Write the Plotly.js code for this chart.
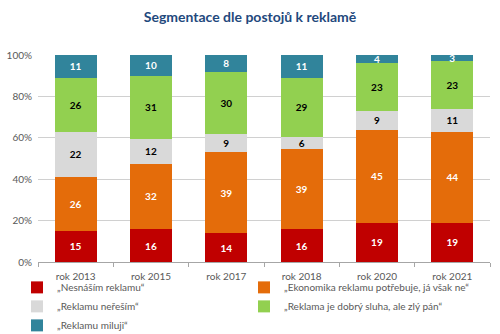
<!DOCTYPE html>
<html>
<head>
<meta charset="utf-8">
<script src="https://cdn.plot.ly/plotly-3.0.1.min.js"></script>
<style>html,body{margin:0;padding:0;background:#fff;}#chart{width:500px;height:334px;}</style>
</head>
<body>
<div id="chart"></div>
<script>
const years = ["rok 2013", "rok 2015", "rok 2017", "rok 2018", "rok 2020", "rok 2021"];
const seriesNames = ["„Nesnáším reklamu“", "„Ekonomika reklamu potřebuje, já však ne“", "„Reklamu neřeším“", "„Reklama je dobrý sluha, ale zlý pán“", "„Reklamu miluji“"];
const nesnasim = [15, 16, 14, 16, 19, 19];
const ekonomika = [26, 32, 39, 39, 45, 44];
const neresim = [22, 12, 9, 6, 9, 11];
const sluha = [26, 31, 30, 29, 23, 23];
const miluji = [11, 10, 8, 11, 4, 3];
const yTickVals = [0, 20, 40, 60, 80, 100];
const yTickText = ["0%", "20%", "40%", "60%", "80%", "100%"];
const colors = ["#C00000", "#E46C0A", "#D9D9D9", "#92D050", "#31849B"];
const textColors = ["#FFFFFF", "#FFFFFF", "#000000", "#000000", "#FFFFFF"];
const values = [nesnasim, ekonomika, neresim, sluha, miluji];

const FONT = "Lato, 'Open Sans', sans-serif";
const traces = values.map((v, i) => ({
  type: "bar",
  name: seriesNames[i],
  x: years,
  y: v,
  text: v.map(String),
  textposition: "inside",
  insidetextanchor: "middle",
  textangle: 0,
  constraintext: "none",
  textfont: {family: FONT, size: 10, color: textColors[i], weight: "bold"},
  marker: {color: colors[i], line: {width: 0}},
  hoverinfo: "none"
}));

const layout = {
  width: 500, height: 334,
  margin: {l: 38, r: 10, t: 55, b: 72},
  barmode: "stack",
  barnorm: "percent",
  bargap: 0.44,
  paper_bgcolor: "#fff",
  plot_bgcolor: "#fff",
  font: {family: FONT, size: 10, color: "#595959"},
  title: {text: "Segmentace dle postojů k reklamě", x: 0.5, xref: "container", xanchor: "center",
          y: 0.95, yref: "container", yanchor: "middle",
          font: {family: FONT, size: 14, color: "#1F497D", weight: "bold"}},
  xaxis: {
    type: "category",
    showline: true, linecolor: "#A6A6A6", linewidth: 1,
    ticks: "outside", tickson: "boundaries", ticklen: 4, tickcolor: "#A6A6A6",
    ticklabelstandoff: 5,
    tickfont: {family: FONT, size: 10, color: "#595959"},
    showgrid: false, zeroline: false
  },
  yaxis: {
    range: [0, 100], tickmode: "array", tickvals: yTickVals, ticktext: yTickText,
    showgrid: true, gridcolor: "#D0D0D0", gridwidth: 1,
    showline: false, zeroline: false, ticks: "",
    ticklabelstandoff: 5,
    tickfont: {family: FONT, size: 10, color: "#595959"}
  },
  showlegend: true,
  legend: {
    orientation: "h", xref: "container", x: 0.034, xanchor: "left",
    yref: "container", y: 0.183, yanchor: "top",
    bgcolor: "rgba(0,0,0,0)",
    entrywidth: 182, entrywidthmode: "pixels",
    traceorder: "normal", tracegroupgap: 0,
    font: {family: FONT, size: 10, color: "#595959"},
    itemclick: false, itemdoubleclick: false
  }
};

Plotly.newPlot("chart", traces, layout, {staticPlot: true, displayModeBar: false});
</script>
</body>
</html>
